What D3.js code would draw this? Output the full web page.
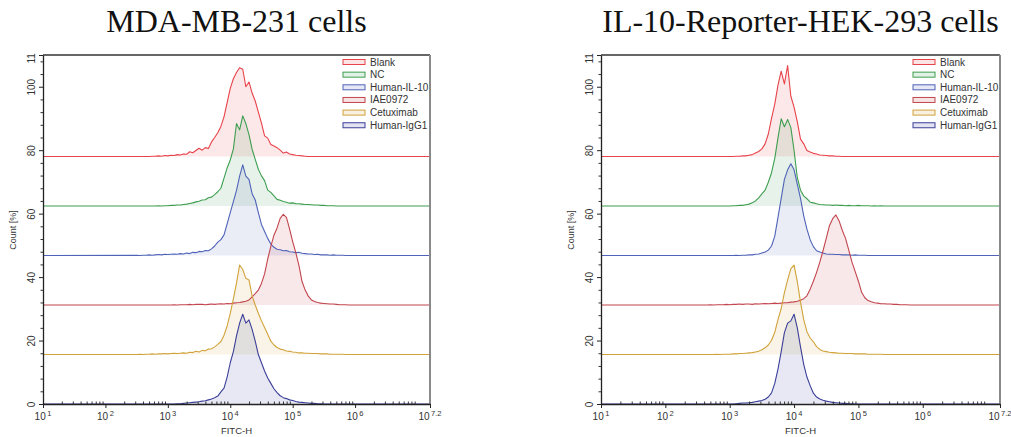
<!DOCTYPE html>
<html>
<head>
<meta charset="utf-8">
<script src="https://cdn.jsdelivr.net/npm/d3@7"></script>
<style>
  body { margin: 0; background: #fff; }
  svg text { font-family: "Liberation Sans", Arial, sans-serif; fill: #333; }
  .title { font-family: "Liberation Serif", "Times New Roman", serif; fill: #111; }
</style>
</head>
<body>
<svg id="chart" width="1011" height="437"></svg>
<script>
// series names, in legend order (top histogram first)
var seriesNames = ["Blank", "NC", "Human-IL-10", "IAE0972", "Cetuximab", "Human-IgG1"];
var seriesColors = ["#e8424a", "#3d9e4f", "#4f63b8", "#c2454d", "#d1a23a", "#3b3f99"];
// vertical offset (Count %) of each stacked histogram
var baselines = [78, 62.4, 46.8, 31.2, 15.6, 0];

var yMajorTicks = [0, 20, 40, 60, 80, 100, 110];
var xDecades = [1, 2, 3, 4, 5, 6, 7.2];

// histograms sampled in log10(FITC-H), first sample at 10^2.5, one every 0.05 decade
var gridStart = 2.5, gridStep = 0.05;

// MDA-MB-231 cells
var mdaBlank = [0,0,0,0,0,0.1,0.1,0.2,0.1,0.3,
  0.2,0.4,0.3,0.6,0.5,0.8,0.7,1.5,1.2,1.9,
  2.6,2.0,2.8,2.5,4.6,6.0,7.5,9.5,12.5,17.0,
  21.5,24.5,26.5,28.0,27.5,22.0,23.5,20.0,17.5,14.0,
  10.5,6.5,5.8,3.8,3.3,2.8,2.0,1.1,1.4,0.8,
  0.6,0.4,0.3,0.2,0.1,0];
var mdaNC = [0,0,0,0,0,0,0,0.1,0,0.1,
  0.1,0.2,0.2,0.3,0.3,0.5,0.6,0.8,1.0,1.3,
  1.5,1.9,2.0,2.6,2.8,3.6,4.5,5.6,8.8,12.0,
  14.5,18.0,26.0,24.0,28.4,26.0,22.5,17.9,14.7,11.6,
  9.5,8.0,5.0,4.3,3.2,2.1,1.8,1.4,1.2,0.9,
  1.0,0.7,0.7,0.6,0.5,0.5,0.4,0.3,0.3,0.2,
  0.2,0.1,0.1,0.1,0];
var mdaIL10 = [0.1,0,0.1,0.1,0.2,0.1,0.2,0.3,0.2,0.4,
  0.3,0.4,0.5,0.4,0.6,0.5,0.8,0.6,1.0,0.9,
  1.3,1.2,1.6,1.5,2.1,3.0,4.2,5.0,6.5,10.0,
  13.5,17.0,20.5,25.0,28.6,25.0,24.0,19.5,17.5,13.5,
  9.8,7.6,5.4,3.6,2.6,2.0,1.8,1.5,1.6,1.2,
  1.1,0.9,1.0,0.7,0.6,0.5,0.5,0.3,0.4,0.2,
  0.2,0.2,0.1,0.2,0.1,0.1,0.1,0];
var mdaIAE = [0,0,0,0,0,0,0,0,0,0,
  0,0,0.1,0,0.1,0.1,0.1,0.2,0.1,0.2,
  0.2,0.2,0.1,0.2,0.3,0.2,0.3,0.4,0.3,0.5,
  0.4,0.6,0.7,0.8,1.0,1.2,1.6,2.6,3.6,4.7,
  6.8,9.8,14.5,18.5,22.0,24.3,27.3,28.6,27.6,24.0,
  20.0,16.5,12.5,7.4,4.7,2.8,1.6,1.1,0.8,0.6,
  0.5,0.4,0.3,0.3,0.2,0.1,0.1,0.1,0];
var mdaCetux = [0,0.1,0,0.1,0.1,0.2,0.1,0.2,0.2,0.3,
  0.2,0.3,0.4,0.3,0.4,0.5,0.4,0.7,0.6,1.0,
  0.8,1.3,1.2,1.7,1.8,2.4,3.2,4.1,6.1,9.0,
  13.0,17.5,22.5,28.2,26.8,24.0,23.5,18.5,15.6,13.0,
  10.6,8.5,6.4,4.2,3.0,2.2,1.7,1.5,1.1,1.0,
  0.8,0.7,0.5,0.5,0.4,0.4,0.3,0.3,0.3,0.2,
  0.2,0.2,0.1,0.1,0.1,0.1,0.1,0];
var mdaIgG1 = [0,0,0,0,0,0,0,0,0,0,
  0,0,0,0.1,0.1,0.2,0.3,0.4,0.5,0.6,
  0.7,0.9,1.0,1.3,1.6,2.0,2.5,3.8,5.0,8.5,
  13.0,16.5,21.5,25.5,28.3,25.5,26.5,23.5,19.8,15.6,
  13.0,10.4,8.2,6.5,4.8,3.6,2.6,2.0,1.7,1.3,
  1.1,0.8,0.6,0.5,0.4,0.3,0.2,0.2,0.1,0.1,
  0];

// IL-10-Reporter-HEK-293 cells
var hekBlank = [0,0,0,0,0,0,0,0,0,0,
  0,0,0.1,0.1,0.2,0.2,0.4,0.6,1.1,1.6,
  2.4,4.0,7.1,12.0,16.5,22.5,26.9,22.9,28.7,19.0,
  15.6,11.0,5.5,4.0,1.9,1.4,1.0,0.8,0.5,0.4,
  0.3,0.2,0.2,0.1,0.1,0];
var hekNC = [0,0,0,0,0,0,0,0,0,0,
  0,0.1,0.1,0.2,0.2,0.4,0.6,1.0,1.6,2.6,
  3.8,5.0,7.5,10.5,15.0,21.5,27.5,25.0,27.3,24.7,
  17.5,9.0,5.0,3.2,2.3,1.2,1.0,0.7,0.5,0.4,
  0.3,0.3,0.2,0.3,0.2,0.2,0.1,0.2,0.1,0.1,
  0.2,0.1,0.1,0.1,0,0.1,0,0.1,0];
var hekIL10 = [0,0,0,0,0,0,0,0,0,0,
  0,0,0.1,0,0.1,0.1,0.2,0.2,0.4,0.5,
  0.8,1.1,1.7,3.0,6.1,12.0,18.0,24.0,27.0,28.9,
  27.0,22.5,18.0,12.5,8.3,5.0,2.8,1.5,1.1,0.8,
  0.5,0.4,0.4,0.3,0.3,0.2,0.2,0.2,0.1,0.2,
  0.1,0.1,0.1,0];
var hekIAE = [0,0,0,0,0.1,0,0.1,0.1,0.1,0.2,
  0.1,0.2,0.2,0.3,0.2,0.3,0.3,0.2,0.4,0.3,
  0.4,0.5,0.4,0.5,0.6,0.5,0.6,0.7,0.7,0.9,
  1.0,1.2,1.5,2.0,2.9,5.0,7.5,10.3,13.5,17.1,
  21.0,25.0,27.2,28.4,26.5,23.5,21.0,17.3,13.5,10.5,
  7.5,4.0,2.3,1.4,1.0,0.7,0.6,0.4,0.4,0.3,
  0.3,0.2,0.2,0.1,0.1,0.1,0];
var hekCetux = [0,0,0,0,0,0,0.1,0,0.1,0.1,
  0.1,0.2,0.2,0.3,0.3,0.4,0.5,0.6,0.8,1.0,
  1.5,2.1,3.0,4.5,7.0,11.0,14.5,19.5,23.5,27.1,
  28.2,23.0,16.5,11.0,7.2,5.2,4.0,2.5,1.6,1.1,
  0.9,0.7,0.6,0.5,0.4,0.4,0.3,0.3,0.3,0.2,
  0.2,0.2,0.2,0.1,0.1,0.1,0.1,0.1,0];
var hekIgG1 = [0,0,0,0,0,0,0,0,0,0,
  0,0,0.1,0.2,0.3,0.3,0.4,0.5,0.7,0.9,
  1.1,1.5,2.2,3.5,6.5,11.0,16.5,22.5,25.5,26.2,
  28.3,24.0,18.0,12.5,8.5,5.8,3.4,2.2,1.6,1.2,
  0.9,0.7,0.5,0.4,0.3,0.2,0.2,0.1,0.1,0];

var panels = [
  {title: "MDA-MB-231 cells", left: 43, right: 430,
   series: [mdaBlank, mdaNC, mdaIL10, mdaIAE, mdaCetux, mdaIgG1]},
  {title: "IL-10-Reporter-HEK-293 cells", left: 601, right: 1000,
   series: [hekBlank, hekNC, hekIL10, hekIAE, hekCetux, hekIgG1]}
];

var plotTop = 55, plotBottom = 404;
var svg = d3.select("#chart");

panels.forEach(function(p, pi) {
  var x = d3.scaleLog()
      .domain([Math.pow(10, xDecades[0]), Math.pow(10, xDecades[xDecades.length - 1])])
      .range([p.left, p.right]);
  var y = d3.scaleLinear()
      .domain([0, 110])
      .range([plotBottom, plotTop]);

  var g = svg.append("g");

  var clipId = "plotclip" + pi;
  g.append("clipPath").attr("id", clipId)
    .append("rect")
    .attr("x", p.left).attr("y", plotTop)
    .attr("width", p.right - p.left).attr("height", plotBottom - plotTop);

  var plot = g.append("g").attr("clip-path", "url(#" + clipId + ")");

  // build points: baseline at both ends of the axis, samples in between
  var curves = p.series.map(function(vals) {
    var pts = vals.map(function(v, k) {
      return {x: Math.pow(10, gridStart + k * gridStep), v: v};
    });
    pts.unshift({x: x.domain()[0], v: 0});
    pts.push({x: x.domain()[1], v: 0});
    return pts;
  });

  curves.forEach(function(pts, i) {
    var base = baselines[i];
    var area = d3.area()
        .x(function(d) { return x(d.x); })
        .y0(y(base))
        .y1(function(d) { return y(base + d.v); });
    plot.append("path")
      .datum(pts)
      .attr("d", area)
      .attr("fill", seriesColors[i])
      .attr("fill-opacity", 0.12);
  });

  curves.forEach(function(pts, i) {
    var base = baselines[i];
    var line = d3.line()
        .x(function(d) { return x(d.x); })
        .y(function(d) { return y(base + d.v); });
    plot.append("path")
      .datum(pts)
      .attr("d", line)
      .attr("fill", "none")
      .attr("stroke", seriesColors[i])
      .attr("stroke-width", 1.1)
      .attr("stroke-linejoin", "round");
  });

  // frame: dark top, grey right edge
  g.append("line")
    .attr("x1", p.left).attr("x2", p.right)
    .attr("y1", plotTop).attr("y2", plotTop)
    .attr("stroke", "#333").attr("stroke-width", 1.4);
  g.append("line")
    .attr("x1", p.right).attr("x2", p.right)
    .attr("y1", plotTop).attr("y2", plotBottom)
    .attr("stroke", "#8a8a8a").attr("stroke-width", 2);

  // y axis (labels clipped at the frame top, like the "110" in the source)
  var yClip = "yclip" + pi;
  g.append("clipPath").attr("id", yClip)
    .append("rect")
    .attr("x", -40).attr("y", plotTop - 2)
    .attr("width", 50).attr("height", plotBottom - plotTop + 20);

  var minorY = d3.range(0, 111, 4).filter(function(v) { return yMajorTicks.indexOf(v) < 0; });
  g.append("g")
    .attr("transform", "translate(" + p.left + ",0)")
    .call(d3.axisLeft(y).tickValues(minorY).tickSize(2.5).tickFormat(""))
    .call(function(a) { a.select(".domain").remove(); a.selectAll("line").attr("stroke", "#333"); });

  var yAxis = g.append("g")
    .attr("transform", "translate(" + p.left + ",0)")
    .attr("clip-path", "url(#" + yClip + ")")
    .call(d3.axisLeft(y).tickValues(yMajorTicks).tickSizeInner(4).tickSizeOuter(0));
  yAxis.select(".domain").attr("stroke", "#222").attr("stroke-width", 1.3);
  yAxis.selectAll("line").attr("stroke", "#222");
  yAxis.selectAll("text")
    .attr("x", null).attr("dy", null)
    .attr("transform", "translate(-8,0) rotate(-90)")
    .attr("text-anchor", "middle")
    .attr("font-size", 10);

  g.append("text")
    .attr("transform", "translate(" + (p.left - 27) + ",230) rotate(-90)")
    .attr("text-anchor", "middle")
    .attr("font-size", 9)
    .text("Count [%]");

  // x axis
  var minorX = [];
  d3.range(1, 8).forEach(function(dec) {
    d3.range(2, 10).forEach(function(k) {
      var v = k * Math.pow(10, dec);
      if (v < x.domain()[1]) minorX.push(v);
    });
  });
  g.append("g")
    .attr("transform", "translate(0," + plotBottom + ")")
    .call(d3.axisBottom(x).tickValues(minorX).tickSize(-2.5).tickFormat(""))
    .call(function(a) { a.select(".domain").remove(); a.selectAll("line").attr("stroke", "#333"); });

  var xAxis = g.append("g")
    .attr("transform", "translate(0," + plotBottom + ")")
    .call(d3.axisBottom(x)
      .tickValues(xDecades.map(function(e) { return Math.pow(10, e); }))
      .tickSizeInner(4).tickSizeOuter(0)
      .tickFormat(""));
  xAxis.select(".domain").attr("stroke", "#222").attr("stroke-width", 1.3);
  xAxis.selectAll("line").attr("stroke", "#222");

  var labels = g.append("g").selectAll("text")
    .data(xDecades)
    .join("text")
    .attr("x", function(e) { return x(Math.pow(10, e)); })
    .attr("y", plotBottom + 16)
    .attr("text-anchor", "middle")
    .attr("font-size", 10);
  labels.append("tspan").text("10");
  labels.append("tspan")
    .attr("dx", 1.5)
    .attr("dy", -4)
    .attr("font-size", 7.5)
    .text(function(e) { return String(e); });

  g.append("text")
    .attr("x", (p.left + p.right) / 2)
    .attr("y", plotBottom + 30)
    .attr("text-anchor", "middle")
    .attr("font-size", 9.5)
    .text("FITC-H");

  // legend
  var legend = g.append("g")
    .attr("transform", "translate(" + (p.right - 87) + ",62)");
  var rows = legend.selectAll("g")
    .data(seriesNames)
    .join("g")
    .attr("transform", function(d, i) { return "translate(0," + (i * 12.65) + ")"; });
  rows.append("rect")
    .attr("x", 0).attr("y", -2.5)
    .attr("width", 22).attr("height", 5)
    .attr("fill", function(d, i) { return seriesColors[i]; })
    .attr("fill-opacity", 0.15)
    .attr("stroke", function(d, i) { return seriesColors[i]; })
    .attr("stroke-width", 1);
  rows.append("text")
    .attr("x", 27).attr("y", 3.5)
    .attr("font-size", 10)
    .text(function(d) { return d; });

  // title
  svg.append("text")
    .attr("class", "title")
    .attr("x", (p.left + p.right) / 2)
    .attr("y", 32)
    .attr("text-anchor", "middle")
    .attr("font-size", 32)
    .text(p.title);
});
</script>
</body>
</html>
